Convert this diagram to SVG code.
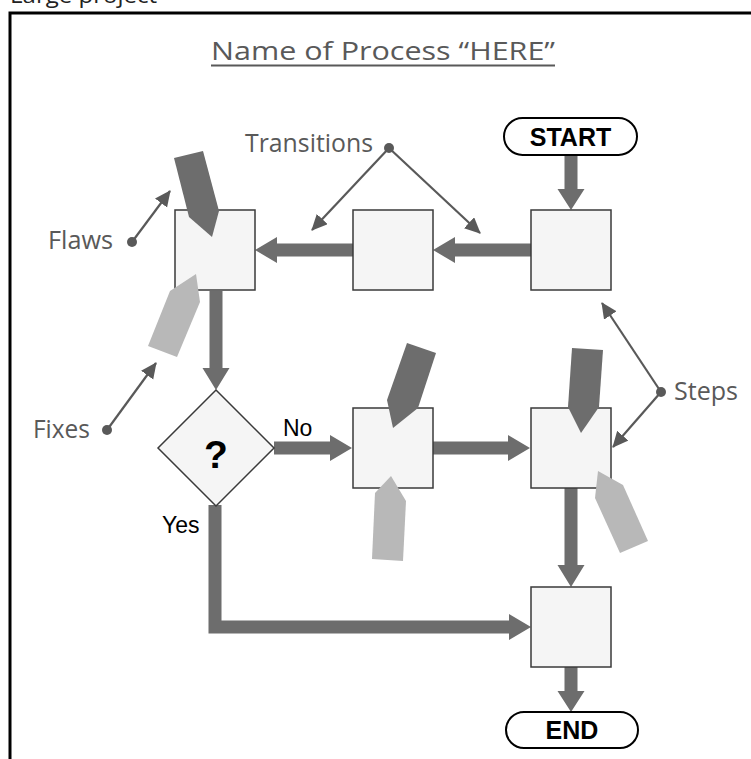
<svg xmlns="http://www.w3.org/2000/svg" width="751" height="759" viewBox="0 0 751 759">
<defs>
<style>
.lbl{font-family:"Open Sans","Noto Sans","Liberation Sans",sans-serif;fill:#595959;font-size:26px}
.blk{font-family:"Liberation Sans",Arial,sans-serif;fill:#000;font-weight:bold;text-anchor:middle}
.box{fill:#f5f5f5;stroke:#3a3a3a;stroke-width:1.5}
.pill{fill:#fff;stroke:#000;stroke-width:2}
.thick{fill:#6d6d6d}
.flaw{fill:#6d6d6d}
.fix{fill:#b8b8b8}
.thin{stroke:#595959;stroke-width:2.2;fill:none;marker-end:url(#ah)}
.dot{fill:#595959}
</style>
<marker id="ah" markerUnits="userSpaceOnUse" markerWidth="18" markerHeight="16" refX="15" refY="7.5" orient="auto">
<path d="M0,0 L16,7.5 L0,15 z" fill="#595959"/>
</marker>
</defs>
<rect width="751" height="759" fill="#fff"/>
<text x="157" y="3" text-anchor="end" font-family="'Open Sans','Noto Sans',sans-serif" font-size="22" fill="#222" textLength="147" lengthAdjust="spacingAndGlyphs">Large project</text>
<path d="M10,759 V13 H751" fill="none" stroke="#000" stroke-width="3"/>

<g id="title">
<text class="lbl" x="211" y="60" font-size="32" textLength="344" lengthAdjust="spacingAndGlyphs">Name of Process “HERE”</text>
<line x1="211" y1="65.5" x2="555" y2="65.5" stroke="#595959" stroke-width="2"/>
</g>

<g id="connectors">
<polygon class="thick" points="564.5,155 577.5,155 577.5,189 584.5,189 571,210 557.5,189 564.5,189"/>
<polygon class="thick" points="531,243.5 455,243.5 455,237 433,250 455,263 455,256.5 531,256.5"/>
<polygon class="thick" points="353,243.5 277,243.5 277,237 255,250 277,263 277,256.5 353,256.5"/>
<polygon class="thick" points="209.5,291 222.5,291 222.5,368 229.5,368 216,390 202.5,368 209.5,368"/>
<polygon class="thick" points="274,441.5 330,441.5 330,435 352,448 330,461 330,454.5 274,454.5"/>
<polygon class="thick" points="433,441.5 508,441.5 508,435 530,448 508,461 508,454.5 433,454.5"/>
<polygon class="thick" points="564.5,488 577.5,488 577.5,565 584.5,565 571,587 557.5,565 564.5,565"/>
<polygon class="thick" points="564.5,667 577.5,667 577.5,691 584.5,691 571,712 557.5,691 564.5,691"/>
<polygon class="thick" points="208.5,505 221.5,505 221.5,620.5 509,620.5 509,614 531,627 509,640 509,633.5 208.5,633.5"/>
<text x="283" y="436" font-family="'Liberation Sans',Arial,sans-serif" font-size="23" fill="#000">No</text>
<text x="162" y="533" font-family="'Liberation Sans',Arial,sans-serif" font-size="23" fill="#000">Yes</text>
</g>

<g id="start">
<rect class="pill" x="504" y="118" width="133" height="37" rx="18.5"/>
<text class="blk" x="570.5" y="146" font-size="25">START</text>
</g>

<g id="step1">
<rect class="box" x="531" y="210" width="80" height="80"/>
</g>

<g id="step2">
<rect class="box" x="353" y="210" width="80" height="80"/>
</g>

<g id="step3">
<rect class="box" x="175" y="210" width="80" height="80"/>
<polygon class="flaw" points="174,158 203,151 219,211 212,237 189,217"/>
<polygon class="fix" points="148,346 170,291 196,274 200,302 177,357"/>
</g>

<g id="decision">
<polygon class="box" points="216,390 274,448 216,506 158,448"/>
<text class="blk" x="216" y="468" font-size="39">?</text>
</g>

<g id="step4">
<rect class="box" x="353" y="408" width="80" height="80"/>
<polygon class="flaw" points="407,343 436,353 418,408 393,428 387,400"/>
<polygon class="fix" points="372,559 375,493 391,476 406,501 403,561"/>
</g>

<g id="step5">
<rect class="box" x="531" y="408" width="80" height="80"/>
<polygon class="flaw" points="572,348 603,350 599,407 581,433 568,407"/>
<polygon class="fix" points="595,498 598,471 623,485 648,541 620,553"/>
</g>

<g id="step6">
<rect class="box" x="531" y="587" width="80" height="80"/>
</g>

<g id="end">
<rect class="pill" x="506" y="712" width="132" height="36" rx="18"/>
<text class="blk" x="572" y="739" font-size="25">END</text>
</g>

<g id="annotations">
<text class="lbl" x="245" y="152" textLength="128" lengthAdjust="spacingAndGlyphs">Transitions</text>
<circle class="dot" cx="389" cy="148" r="5"/>
<line class="thin" x1="389" y1="148" x2="312" y2="230"/>
<line class="thin" x1="389" y1="148" x2="480" y2="233"/>
<text class="lbl" x="48" y="249" textLength="65" lengthAdjust="spacingAndGlyphs">Flaws</text>
<circle class="dot" cx="132" cy="242" r="5"/>
<line class="thin" x1="132" y1="242" x2="170" y2="191"/>
<text class="lbl" x="33" y="438" textLength="57" lengthAdjust="spacingAndGlyphs">Fixes</text>
<circle class="dot" cx="107" cy="430" r="5"/>
<line class="thin" x1="107" y1="430" x2="156" y2="363"/>
<text class="lbl" x="674" y="400" textLength="64" lengthAdjust="spacingAndGlyphs">Steps</text>
<circle class="dot" cx="661" cy="392" r="5"/>
<line class="thin" x1="661" y1="392" x2="602" y2="303"/>
<line class="thin" x1="661" y1="392" x2="613" y2="447"/>
</g>
</svg>
